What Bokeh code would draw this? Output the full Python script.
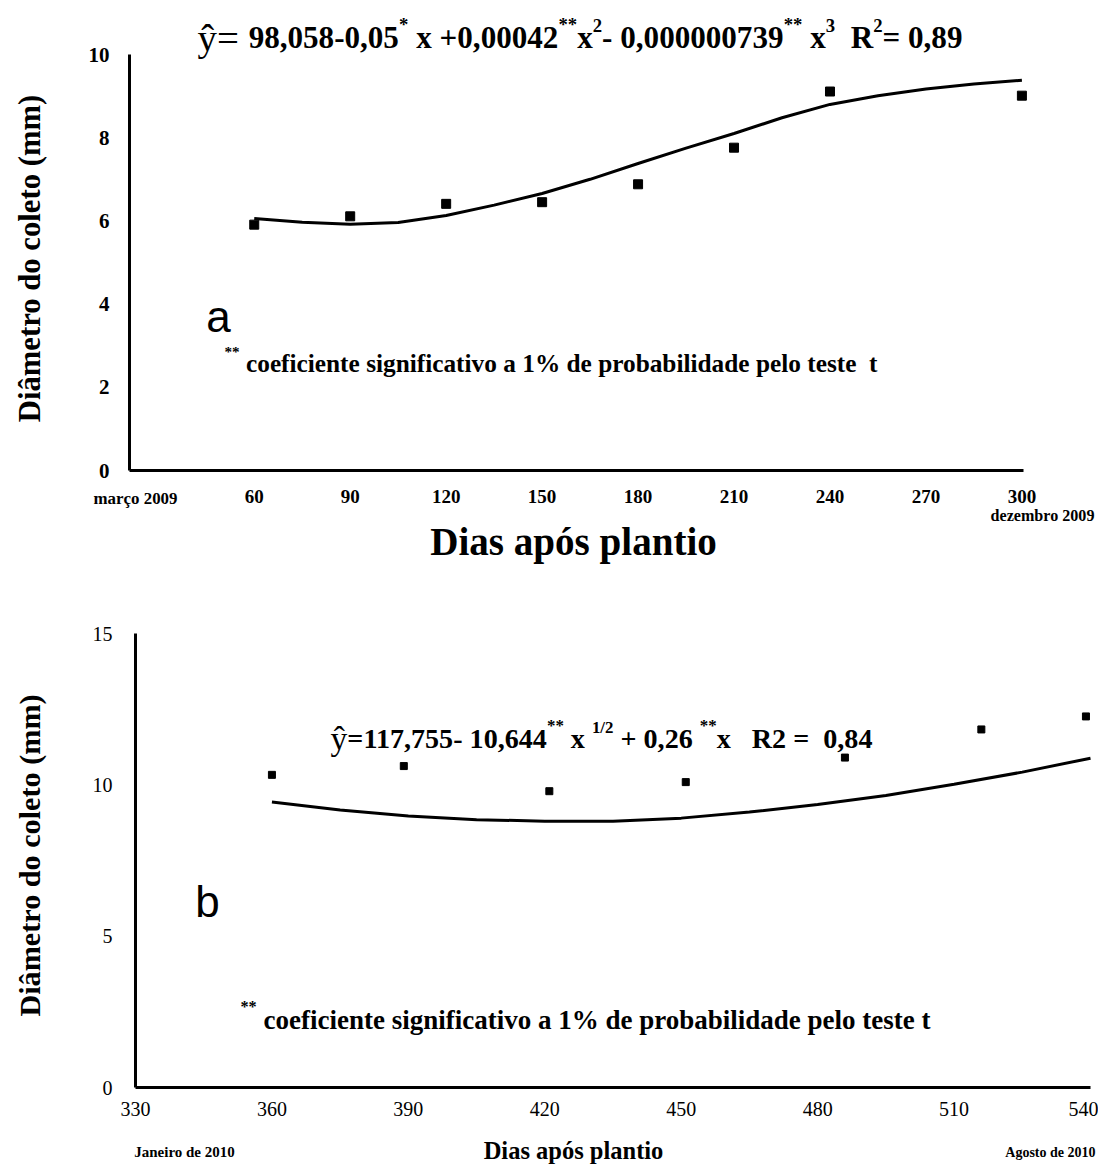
import math, os, glob
from PIL import ImageFont
from bokeh.plotting import figure
from bokeh.models import Range1d, FixedTicker, Label, LinearAxis
from bokeh.embed import file_html
from bokeh.resources import INLINE

# ---------------- data ----------------
# panel a
days_a = [60, 90, 120, 150, 180, 210, 240, 300]
diam_a = [5.91, 6.11, 6.41, 6.45, 6.88, 7.76, 9.11, 9.01]
fit_days_a = [60, 75, 90, 105, 120, 135, 150, 165, 180, 195, 210, 225, 240, 255, 270, 285, 300]
fit_a = [6.06, 5.97, 5.92, 5.96, 6.13, 6.38, 6.66, 7.00, 7.38, 7.75, 8.10, 8.48, 8.80, 9.01, 9.17, 9.29, 9.38]
xticks_a = [60, 90, 120, 150, 180, 210, 240, 270, 300]
yticks_a = [0, 2, 4, 6, 8, 10]

# panel b
days_b = [360, 389, 421, 451, 486, 516, 539]
diam_b = [10.33, 10.62, 9.79, 10.09, 10.90, 11.83, 12.26]
fit_days_b = [360, 375, 390, 405, 420, 435, 450, 465, 480, 495, 510, 525, 540]
fit_b = [9.43, 9.17, 8.97, 8.85, 8.80, 8.80, 8.90, 9.10, 9.35, 9.65, 10.02, 10.42, 10.88]
xticks_b = [330, 360, 390, 420, 450, 480, 510, 540]
yticks_b = [0, 5, 10, 15]

SERIF = "Liberation Serif"
SANS = "Liberation Sans"


def _find(pattern):
    for d in ["/usr/share/fonts", "/usr/local/share/fonts", os.path.expanduser("~/.fonts")]:
        hits = glob.glob(os.path.join(d, "**", pattern), recursive=True)
        if hits:
            return hits[0]
    return None


FONT_FILES = {
    (SERIF, True): _find("LiberationSerif-Bold.ttf"),
    (SERIF, False): _find("LiberationSerif-Regular.ttf"),
    (SANS, False): _find("LiberationSans-Regular.ttf"),
}
_cache = {}


def text_w(txt, size, bold=True, fam=SERIF):
    path = FONT_FILES.get((fam, bold))
    if path:
        if path not in _cache:
            _cache[path] = ImageFont.truetype(path, 100)
        return _cache[path].getlength(txt) * size / 100.0
    return len(txt) * size * 0.5


def fit(txt, width, bold=True, fam=SERIF):
    return width / text_w(txt, 1.0, bold, fam)


class Panel:
    """Maps pixels of a figure canvas (whose frame fills the canvas) to data."""
    def __init__(self, W, H, L, R, T, B, x0, x1, y0, y1, off=0):
        self.W, self.H, self.off = W, H, off
        self.kx = (x1 - x0) / (R - L)
        self.ky = (y1 - y0) / (B - T)
        self.L, self.B, self.x0, self.y0 = L, B, x0, y0
        self.xs, self.xe = x0 - L * self.kx, x0 + (W - L) * self.kx
        self.ys, self.ye = y0 - (H - B) * self.ky, y0 + B * self.ky

    def dx(self, px):
        return self.x0 + (px - self.L) * self.kx

    def dy(self, py):  # py in page pixels
        return self.y0 + (self.B - (py - self.off)) * self.ky


def put(p, fr, txt, px, py, size, bold=True, fam=SERIF, align="left",
        baseline="alphabetic", angle=0.0):
    p.add_layout(Label(x=fr.dx(px), y=fr.dy(py), text=txt, text_font=fam,
                       text_font_size=f"{size:.1f}px",
                       text_font_style="bold" if bold else "normal",
                       text_align=align, text_baseline=baseline, angle=angle,
                       text_color="black"))


def flow(p, fr, segs, px, py, target_w):
    total = sum(text_w(t, rs, b, f) for t, rs, b, r, f in segs)
    scale = target_w / total
    x = px
    for t, rs, b, r, f in segs:
        s = rs * scale
        i = 0
        while i < len(t):
            if t[i] == " ":
                i += 1
                continue
            j = i
            while j < len(t) and t[j] != " ":
                j += 1
            put(p, fr, t[i:j], x + text_w(t[:i], s, b, f), py - r * scale, s, b, f)
            i = j
        x += text_w(t, s, b, f)


def make_fig(fr, xticks, yticks, x_bounds, y_bounds, bold, ysize, xsize, ystand, xstand):
    p = figure(width=fr.W, height=fr.H, output_backend="svg", toolbar_location=None,
               x_range=Range1d(fr.xs, fr.xe), y_range=Range1d(fr.ys, fr.ye),
               x_axis_location=None, y_axis_location=None,
               min_border=0, min_border_left=0, min_border_right=0,
               min_border_top=0, min_border_bottom=0)
    p.title.visible = False
    p.xgrid.visible = False
    p.ygrid.visible = False
    p.outline_line_color = None
    p.background_fill_color = "white"
    p.border_fill_color = "white"
    xa = LinearAxis(ticker=FixedTicker(ticks=xticks), fixed_location=y_bounds[0], bounds=x_bounds)
    ya = LinearAxis(ticker=FixedTicker(ticks=yticks), fixed_location=x_bounds[0], bounds=y_bounds)
    for ax in (xa, ya):
        ax.axis_line_color = "black"
        ax.axis_line_width = 3
        ax.major_tick_line_color = None
        ax.minor_tick_line_color = None
        ax.major_tick_in = 0
        ax.major_tick_out = 0
        ax.minor_tick_in = 0
        ax.minor_tick_out = 0
        ax.major_label_text_font = SERIF
        ax.major_label_text_font_style = "bold" if bold else "normal"
        ax.major_label_text_color = "black"
    ya.major_label_text_font_size = f"{ysize}px"
    xa.major_label_text_font_size = f"{xsize}px"
    ya.major_label_standoff = ystand
    xa.major_label_standoff = xstand
    p.add_layout(xa, "below")
    p.add_layout(ya, "left")
    return p


W = 1098
H_A = 590
H_B = 1171 - H_A

# ---------------- panel a ----------------
FA = Panel(W, H_A, 129, 1023, 54, 470, 21, 300.5, 0, 10)
pa = make_fig(FA, xticks_a, yticks_a, (21, 300.5), (0, 10), True, 21, 19, 20, 19)
pa.line(fit_days_a, fit_a, line_color="black", line_width=3)
pa.scatter(days_a, diam_a, marker="square", size=9, color="black")

sup = 0.6
flow(pa, FA, [
    ("ŷ= ", 1.25, False, 0, SERIF),
    ("98,058-0,05", 1, True, 0, SERIF),
    ("*", sup, True, 0.42, SERIF),
    (" x +0,00042", 1, True, 0, SERIF),
    ("**", sup, True, 0.42, SERIF),
    ("x", 1, True, 0, SERIF),
    ("2", sup, True, 0.38, SERIF),
    ("- 0,000000739", 1, True, 0, SERIF),
    ("**", sup, True, 0.42, SERIF),
    (" x", 1, True, 0, SERIF),
    ("3", sup, True, 0.38, SERIF),
    ("  R", 1, True, 0, SERIF),
    ("2", sup, True, 0.38, SERIF),
    ("= 0,89", 1, True, 0, SERIF),
], 197, 37, 765)

flow(pa, FA, [
    ("**", 0.6, True, 0.42, SERIF),
    (" coeficiente significativo a 1% de probabilidade pelo teste  t", 1, True, 0, SERIF),
], 224, 362, 653)

put(pa, FA, "a", 218, 316, 44, bold=False, fam=SANS, align="center", baseline="middle")

t = "Diâmetro do coleto (mm)"
put(pa, FA, t, 29, 258, fit(t, 328), align="center", baseline="middle", angle=math.pi / 2)
t = "Dias após plantio"
put(pa, FA, t, 573, 541, fit(t, 287), align="center", baseline="middle")
t = "março 2009"
put(pa, FA, t, 135, 498, fit(t, 84), align="center", baseline="middle")
t = "dezembro 2009"
put(pa, FA, t, 1042, 515, fit(t, 104), align="center", baseline="middle")

# ---------------- panel b ----------------
FB = Panel(W, H_B, 135, 1090, 633 - H_A, 1087 - H_A, 330, 540, 0, 15, off=H_A)
pb = make_fig(FB, xticks_b, yticks_b, (330, 540), (0, 15), False, 20, 20, 23, 14)
pb.line(fit_days_b, fit_b, line_color="black", line_width=3)
pb.scatter(days_b, diam_b, marker="square", size=7, color="black")

flow(pb, FB, [
    ("ŷ", 1.2, False, 0, SERIF),
    ("=117,755- 10,644", 1, True, 0, SERIF),
    ("**", 0.6, True, 0.45, SERIF),
    (" x ", 1, True, 0, SERIF),
    ("1/2", 0.6, True, 0.4, SERIF),
    (" + 0,26 ", 1, True, 0, SERIF),
    ("**", 0.6, True, 0.45, SERIF),
    ("x   R2 =  0,84", 1, True, 0, SERIF),
], 330, 738, 542)

flow(pb, FB, [
    ("**", 0.6, True, 0.45, SERIF),
    (" coeficiente significativo a 1% de probabilidade pelo teste t", 1, True, 0, SERIF),
], 240, 1019, 690)

put(pb, FB, "b", 207, 901, 44, bold=False, fam=SANS, align="center", baseline="middle")

t = "Diâmetro do coleto (mm)"
put(pb, FB, t, 29, 855, fit(t, 322), align="center", baseline="middle", angle=math.pi / 2)
t = "Dias após plantio"
put(pb, FB, t, 573, 1150, fit(t, 180), align="center", baseline="middle")
put(pb, FB, "Janeiro de 2010", 184, 1151, 15, align="center", baseline="middle")
put(pb, FB, "Agosto de 2010", 1095, 1152, 14, align="right", baseline="middle")

open("out.html", "w").write(file_html([pa, pb], INLINE))
